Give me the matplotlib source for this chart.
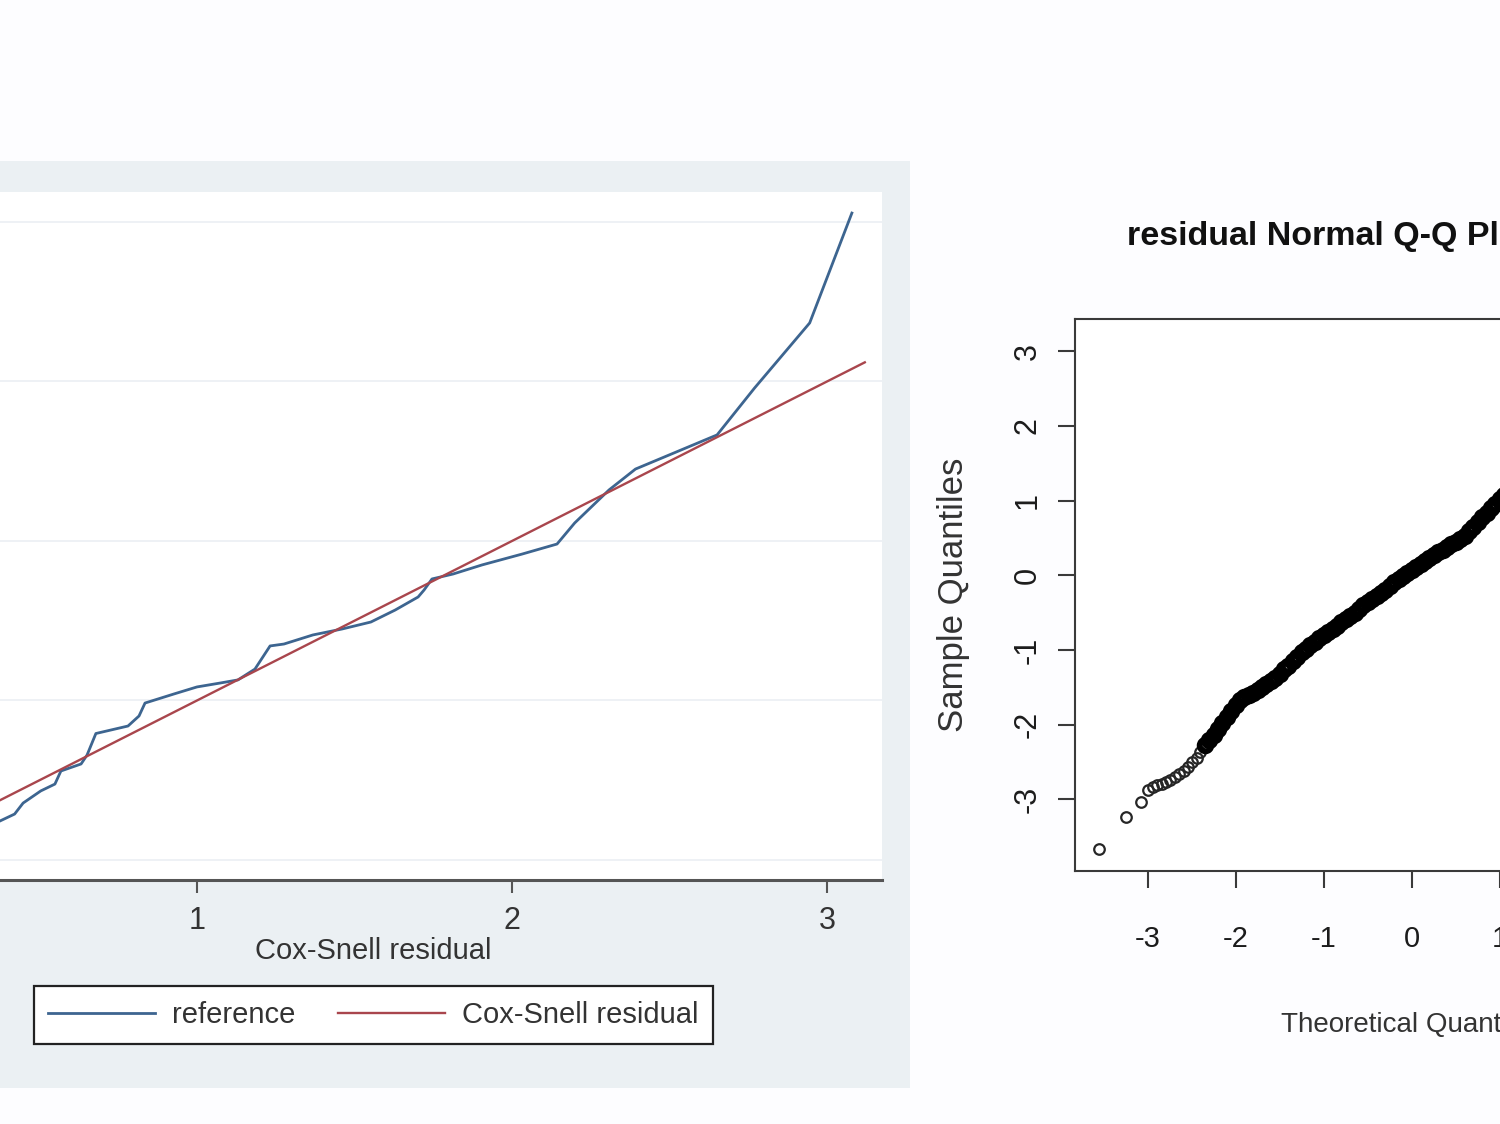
import matplotlib
matplotlib.use("Agg")
import matplotlib.pyplot as plt
from matplotlib import font_manager
from matplotlib.patches import Rectangle

plt.rcParams["axes.unicode_minus"] = False

_names = {f.name for f in font_manager.fontManager.ttflist}
if "Liberation Sans Narrow" in _names:
    NARROW, K = "Liberation Sans Narrow", 1.0 / 0.82
else:
    NARROW, K = ("Liberation Sans" if "Liberation Sans" in _names else "DejaVu Sans"), 1.0
REG = "Liberation Sans" if "Liberation Sans" in _names else "DejaVu Sans"

# ---------------- data: left panel (Stata Cox-Snell plot) ----------------
cs_x = [0.375, 0.421, 0.448, 0.504, 0.549, 0.568, 0.632, 0.651, 0.679, 0.781,
        0.816, 0.835, 0.927, 1.000, 1.075, 1.130, 1.184, 1.232, 1.276, 1.368,
        1.460, 1.552, 1.629, 1.702, 1.721, 1.746, 1.813, 1.905, 2.032, 2.143,
        2.199, 2.308, 2.392, 2.651, 2.770, 2.945, 3.079]
cs_hazard = [0.245, 0.288, 0.357, 0.433, 0.476, 0.558, 0.602, 0.658, 0.793, 0.840,
             0.903, 0.984, 1.041, 1.085, 1.110, 1.129, 1.197, 1.342, 1.354, 1.411,
             1.448, 1.492, 1.567, 1.649, 1.693, 1.762, 1.793, 1.850, 1.918, 1.981,
             2.113, 2.320, 2.451, 2.665, 2.959, 3.367, 4.056]
ref_line = [0.0, 3.12]
left_xticks = [1, 2, 3]
left_grid = [0, 1, 2, 3, 4]
legend_labels = ["reference", "Cox-Snell residual"]

# ---------------- data: right panel (R normal Q-Q plot) ----------------
tail_theor = [-3.55, -3.25, -3.08, -2.99, -2.94, -2.89, -2.84, -2.79, -2.74, -2.69,
              -2.64, -2.59, -2.54, -2.49, -2.44, -2.40]
tail_sample = [-3.66, -3.23, -3.03, -2.88, -2.84, -2.81, -2.79, -2.77, -2.74, -2.70,
               -2.66, -2.62, -2.57, -2.50, -2.44, -2.37]
band_theor = [-2.35, -2.30, -2.25, -2.20, -2.15, -2.10, -2.05, -2.00, -1.95, -1.90,
              -1.85, -1.80, -1.75, -1.70, -1.65, -1.60, -1.55, -1.50, -1.45, -1.40,
              -1.35, -1.30, -1.25, -1.20, -1.15, -1.10, -1.05, -1.00, -0.95, -0.90,
              -0.85, -0.80, -0.75, -0.70, -0.65, -0.60, -0.55, -0.50, -0.45, -0.40,
              -0.35, -0.30, -0.25, -0.20, -0.15, -0.10, -0.05, 0.00, 0.05, 0.10,
              0.15, 0.20, 0.25, 0.30, 0.35, 0.40, 0.45, 0.50, 0.55, 0.60,
              0.65, 0.70, 0.75, 0.80, 0.85, 0.90, 0.95, 1.00, 1.05]
band_sample = [-2.27, -2.21, -2.14, -2.06, -1.98, -1.90, -1.82, -1.74, -1.67, -1.63,
               -1.60, -1.57, -1.53, -1.50, -1.46, -1.42, -1.37, -1.32, -1.26, -1.21,
               -1.15, -1.09, -1.03, -0.98, -0.93, -0.89, -0.84, -0.80, -0.76, -0.72,
               -0.68, -0.63, -0.59, -0.55, -0.50, -0.45, -0.40, -0.36, -0.32, -0.28,
               -0.24, -0.19, -0.14, -0.09, -0.05, -0.01, 0.03, 0.07, 0.11, 0.15,
               0.19, 0.23, 0.27, 0.31, 0.34, 0.38, 0.42, 0.45, 0.49, 0.53,
               0.59, 0.65, 0.71, 0.78, 0.84, 0.90, 0.96, 1.02, 1.08]
qq_ticks = [-3, -2, -1, 0, 1, 2, 3]

# ---------------- figure ----------------
W, H = 1500, 1124
fig = plt.figure(figsize=(W / 100, H / 100), dpi=100)
fig.patch.set_facecolor("#fdfdff")


def fx(px):
    return px / W


def fy(py):
    return 1 - py / H


# Stata graph region (grey background), behind everything
fig.patches.append(Rectangle((fx(-20), fy(1088)), fx(930), (1088 - 161) / H,
                             transform=fig.transFigure, facecolor="#ebf0f3",
                             edgecolor="none", zorder=-5))

STATA_TXT = "#333333"
BLUE = "#3d6590"
RED = "#a9464d"

axL = fig.add_axes([fx(-136), fy(880), 1018 / W, 688 / H])
axL.set_facecolor("white")
axL.set_xlim(-0.0571, 3.1746)
axL.set_ylim(-0.1254, 4.188)
for s in ["left", "right", "top"]:
    axL.spines[s].set_visible(False)
axL.spines["bottom"].set_color("#555555")
axL.spines["bottom"].set_linewidth(2.2)
axL.set_yticks(left_grid)
axL.yaxis.grid(True, color="#eef1f5", linewidth=1.4)
axL.set_axisbelow(True)
axL.tick_params(axis="y", length=0, labelleft=False)
axL.set_xticks(left_xticks)
axL.tick_params(axis="x", direction="out", length=9.5, width=1.5, color="#555555",
                pad=9, labelsize=22 * K, labelcolor=STATA_TXT)
for t in axL.get_xticklabels():
    t.set_fontfamily(NARROW)

l1, = axL.plot(cs_x, cs_hazard, color=BLUE, linewidth=2.0, solid_joinstyle="round")
l2, = axL.plot(ref_line, ref_line, color=RED, linewidth=1.7)
axL.set_xlabel("Cox-Snell residual", fontsize=21 * K, family=NARROW, color=STATA_TXT)
axL.xaxis.set_label_coords(0.5, -0.083)

leg = axL.legend([l1, l2], legend_labels, loc="center",
                 bbox_to_anchor=(fx(373.5), fy(1015)), bbox_transform=fig.transFigure,
                 ncol=2, frameon=True, fancybox=False, framealpha=1,
                 handlelength=3.66, handletextpad=0.58, columnspacing=1.47,
                 borderpad=0.5, prop={"family": NARROW, "size": 21 * K})
leg.get_frame().set_edgecolor("#222222")
leg.get_frame().set_linewidth(1.6)
for t in leg.get_texts():
    t.set_color(STATA_TXT)

# ---------------- right panel ----------------
R_TXT = "#1c1c1c"
axR = fig.add_axes([fx(1074.5), fy(871), 674.5 / W, 551.7 / H])
axR.set_facecolor("white")
axR.set_xlim(-3.83, 3.83)
axR.set_ylim(-3.96, 3.43)
for s in axR.spines.values():
    s.set_color("#3a3a3a")
    s.set_linewidth(1.5)
axR.set_xticks(qq_ticks)
axR.set_yticks(qq_ticks)
axR.tick_params(direction="out", length=12, width=1.5, color="#3a3a3a",
                labelsize=22, labelcolor=R_TXT)
axR.tick_params(axis="x", pad=27, labelsize=21 * K)
axR.tick_params(axis="y", pad=11)
for t in axR.get_xticklabels():
    t.set_fontfamily(NARROW)
for t in axR.get_yticklabels():
    t.set_fontfamily(REG)
    t.set_rotation(90)
    t.set_va("center")

axR.plot(tail_theor, tail_sample, "o", mfc="none", mec="#262626", ms=7.6, mew=1.6)
axR.plot(band_theor, band_sample, "o", mfc="none", mec="black", ms=8.4, mew=4.2)

axR.set_ylabel("Sample Quantiles", fontsize=25, family=REG, color="#333333")
axR.yaxis.set_label_coords(-0.155, 0.5)
axR.set_xlabel("Theoretical Quantiles", fontsize=20 * K, family=NARROW, color="#333333")
axR.xaxis.set_label_coords(0.5, -0.255)

fig.text(fx(1127), fy(236), "residual Normal Q-Q Plot", ha="left", va="center",
         fontsize=24.5 * K, fontweight="bold", family=NARROW, color="#111111")

fig.savefig("out.png", dpi=100)
